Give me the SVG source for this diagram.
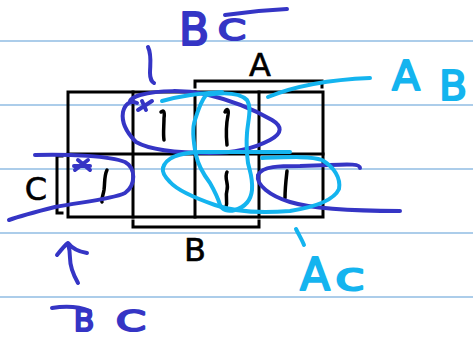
<svg xmlns="http://www.w3.org/2000/svg" width="473" height="339" viewBox="0 0 473 339">
<style>
.rule{stroke:#5b9bd5;stroke-width:1.2}
.grid{stroke:#000;stroke-width:3;fill:none;stroke-linecap:square}
.prt{font-family:"DejaVu Sans",sans-serif;font-size:32px;fill:#000;stroke:#000;stroke-width:0.6;text-anchor:middle}
.hw{font-family:"DejaVu Sans",sans-serif;text-anchor:middle;stroke-width:2;stroke-linejoin:round}
.d{fill:#3535c5;stroke:#3535c5}
.c{fill:#14b4ef;stroke:#14b4ef}
.inkd{fill:none;stroke:#3535c5;stroke-width:4;stroke-linecap:round;stroke-linejoin:round}
.inkc{fill:none;stroke:#14b4ef;stroke-width:4;stroke-linecap:round;stroke-linejoin:round}
.one{fill:none;stroke:#000;stroke-width:3.5;stroke-linecap:round;stroke-linejoin:round}
</style>
<rect width="473" height="339" fill="#fff"/>
<g id="rules">
<line class="rule" x1="0" y1="41" x2="473" y2="41"/>
<line class="rule" x1="0" y1="105" x2="473" y2="105"/>
<line class="rule" x1="0" y1="169" x2="473" y2="169"/>
<line class="rule" x1="0" y1="233" x2="473" y2="233"/>
<line class="rule" x1="0" y1="297" x2="473" y2="297"/>
</g>
<g id="kmap">
<rect class="grid" x="68" y="92" width="255" height="125"/>
<path class="grid" d="M133,92V217M195,92V217M259,92V217M68,154H323"/>
<path class="grid" d="M195,87V81H322V87"/>
<path class="grid" d="M133,221V227H259V221"/>
<path class="grid" d="M62,156H57V213H62"/>
<text class="prt" x="260" y="76">A</text>
<text class="prt" x="195" y="261">B</text>
<text class="prt" x="36" y="200">C</text>
</g>
<g id="ones">
<path class="one" d="M161,112C163,110 165,111 164,118C164,126 163,134 164,140"/>
<path class="one" d="M225,112C227,108 229,109 228,115C226,125 226,135 227,145"/>
<path class="one" d="M107,170C104,176 105,183 104,190C103,196 101,200 102,202"/>
<path class="one" d="M227,172C224,178 229,184 227,190C225,197 228,202 226,207"/>
<path class="one" d="M287,171C286,180 285,188 285,198"/>
</g>
<g id="groups-dark">
<path class="inkd" d="M137,103C130,100 125,104 123,112C121,124 128,134 136,142C150,150 180,153 210,153C235,153 255,148 270,140C283,133 282,126 272,120C255,110 230,100 205,94C185,90 160,90 140,95C134,97 131,99 130,101"/>
<path class="inkd" d="M138,110L152,101M142,101L146,110"/>
<path class="inkd" d="M35,155C70,154 110,156 125,162C136,168 136,185 125,193C110,200 80,202 55,207C35,212 20,216 9,220"/>
<path class="inkd" d="M75,170L88,160M78,160L90,170M74,166H90"/>
<path class="inkd" d="M360,168C360,164 350,164 330,165L300,166C280,166 262,166 258,175C256,185 270,196 290,202C310,208 340,211 400,211"/>
<path class="inkd" d="M148,47C152,55 150,65 150,73C150,78 152,82 154,83"/>
<path class="inkd" d="M78,283C74,276 70,268 70,258C70,252 69,247 68,243M57,255C61,250 65,245 68,243C71,247 75,251 87,253"/>
<path class="inkd" d="M52,308C65,306 80,307 90,311"/>
<path class="inkd" d="M225,15C245,12 265,10 287,9"/>
</g>
<g id="groups-cyan">
<path class="inkc" d="M162,101C180,96 200,93 222,92"/>
<path class="inkc" d="M268,97C290,88 320,80 370,78"/>
<path class="inkc" d="M206,95C225,92 240,93 247,100C252,108 248,120 247,133C246,145 247,155 248,163C250,172 253,178 252,190C251,200 245,207 235,210C228,212 222,210 220,205C218,198 214,190 210,183C204,175 198,165 196,155C193,140 192,128 195,120C198,110 202,100 206,95Z"/>
<path class="inkc" d="M163,168C165,160 175,153 200,152L290,152"/>
<path class="inkc" d="M262,158C290,157 312,156 322,160C334,167 341,178 339,189C334,200 315,207 290,211C265,213 235,212 215,205C195,198 177,190 170,182C164,176 162,172 163,168"/>
<path class="inkc" d="M296,229C299,235 302,240 304,245"/>
</g>
<g id="labels">
<text class="hw d" x="194" y="45" font-size="44">B</text>
<text class="hw d" x="232" y="40" font-size="29" textLength="28" lengthAdjust="spacingAndGlyphs">C</text>
<text class="hw c" x="406" y="90" font-size="41">A</text>
<text class="hw c" x="453" y="100" font-size="41">B</text>
<text class="hw c" x="315" y="290" font-size="44">A</text>
<text class="hw c" x="350" y="290" font-size="37" textLength="30" lengthAdjust="spacingAndGlyphs">c</text>
<text class="hw d" x="84" y="331" font-size="30">B</text>
<text class="hw d" x="131" y="331" font-size="28" textLength="30" lengthAdjust="spacingAndGlyphs">C</text>
</g>
</svg>
